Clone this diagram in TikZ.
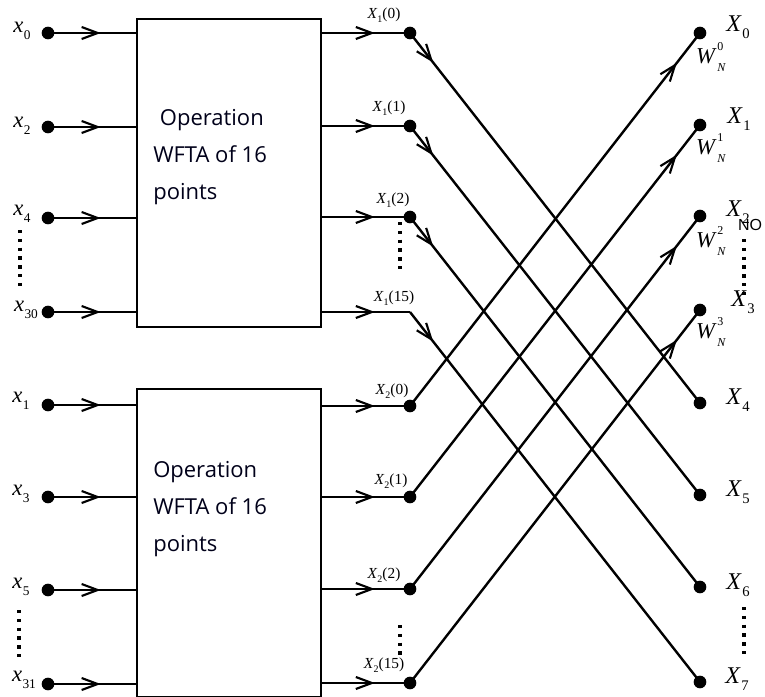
\documentclass[tikz,border=0pt]{standalone}
\usepackage{fontspec}
\setmainfont{Liberation Serif}
\newfontfamily\boxfont{Open Sans}
\newfontfamily\nofont{Liberation Sans}
\usetikzlibrary{arrows.meta,decorations.markings}
\newcommand{\xin}[1]{\fontsize{17}{17}\selectfont\textit{x}\kern0.3pt\raisebox{-0.3em}{\fontsize{10}{10}\selectfont #1}}
\newcommand{\xout}[1]{\fontsize{18}{18}\selectfont\textit{X}\kern0.5pt\raisebox{-0.3em}{\fontsize{11}{11}\selectfont #1}}
\newcommand{\xmid}[2]{\fontsize{11.5}{11.5}\selectfont\textit{X}\raisebox{-0.25em}{\fontsize{7.5}{7.5}\selectfont #1}(#2)}
\newcommand{\wlab}[1]{\fontsize{17}{17}\selectfont\textit{W}\kern0.5pt\rlap{\raisebox{0.55em}{\fontsize{9}{9}\selectfont #1}}\raisebox{-0.35em}{\fontsize{9}{9}\selectfont\textit{N}}}
\begin{document}
\begin{tikzpicture}[x=0.75pt,y=-0.75pt,
  wire/.style={line width=1.8pt},
  dot/.style={circle,fill=black,inner sep=0pt,minimum size=9.5pt},
  box/.style={draw,line width=1.8pt,inner sep=0pt},
  vdots/.style={line width=2.5pt,dash pattern=on 2.5pt off 4.1pt},
  arrowat/.style={postaction={decorate},decoration={markings,
     mark=at position #1 with {\arrow{Straight Barb[length=12pt,width=9pt,line width=1.6pt]}}}},
  txt/.style={inner sep=0pt}]
\useasboundingbox (0,0) rectangle (765,697);
\clip (0,0) rectangle (765,697);
% boxes
\node[box,minimum width=138pt,minimum height=231pt] (B1) at (229,173) {};
\node[box,minimum width=138pt,minimum height=231pt] (B2) at (229,543) {};
\node[txt,anchor=west,align=left,font=\boxfont\fontsize{16.5}{28}\selectfont,text=black!90!blue] (T1) at (153,157)
  {\hspace*{5pt}Operation\\WFTA of 16\\points};
\node[txt,anchor=west,align=left,font=\boxfont\fontsize{16.5}{28}\selectfont,text=black!90!blue] (T2) at (153,509)
  {Operation\\WFTA of 16\\points};
% left inputs
\foreach \n/\y/\l/\lx/\ly in {i0/33/0/22/31, i2/127/2/22/126, i4/218/4/22/214, i30/312/30/26/310,
                          i1/405/1/21/401, i3/497/3/21/494, i5/590/5/21/587, i31/684/31/24/680}{
  \node[dot] (\n) at (48,\y) {};
  \node[txt] (l\n) at (\lx,\ly) {\xin{\l}};
}
\foreach \n/\b in {i0/B1,i2/B1,i4/B1,i30/B1,i1/B2,i3/B2,i5/B2,i31/B2}
  \draw[wire,arrowat=0.6] (\n.center) -- (\n.center -| \b.west);
\draw[vdots] (20,230) -- (20,290);
\draw[vdots] (19,610) -- (19,660);
% middle outputs
\foreach \n/\y in {m0/33, m1/126, m2/217, n0/406, n1/497, n2/589, n15/683}
  \node[dot] (\n) at (410,\y) {};
\coordinate (m15) at (410,312);
\foreach \n/\b in {m0/B1,m1/B1,m2/B1,m15/B1,n0/B2,n1/B2,n2/B2,n15/B2}
  \draw[wire,arrowat=0.6] (\n.center -| \b.east) -- (\n.center);
\node[txt] (lm0) at (384,15) {\xmid{1}{0}};
\node[txt] (lm1) at (389,108) {\xmid{1}{1}};
\node[txt] (lm2) at (393,200) {\xmid{1}{2}};
\node[txt] (lm15) at (394,298) {\xmid{1}{15}};
\node[txt] (ln0) at (392,391) {\xmid{2}{0}};
\node[txt] (ln1) at (391,481) {\xmid{2}{1}};
\node[txt] (ln2) at (384,575) {\xmid{2}{2}};
\node[txt] (ln15) at (384,665) {\xmid{2}{15}};
\draw[vdots] (400,222) -- (400,272);
\draw[vdots] (400,625) -- (400,656);
% right outputs
\foreach \n/\y in {o0/33, o1/125, o2/216, o3/310, o4/403, o5/495, o6/587, o7/682}
  \node[dot] (\n) at (700,\y) {};
\node[txt] (lo0) at (738,27) {\xout{0}};
\node[txt] (lo1) at (739,119) {\xout{1}};
\node[txt] (lo2) at (738,212) {\xout{2}};
\node[txt] (lo3) at (743,302) {\xout{3}};
\node[txt] (lo4) at (738,400) {\xout{4}};
\node[txt] (lo5) at (738,492) {\xout{5}};
\node[txt] (lo6) at (738,585) {\xout{6}};
\node[txt] (lo7) at (737,679) {\xout{7}};
\node[txt,font=\nofont\fontsize{12}{12}\selectfont] (no) at (750,225) {NO};
\draw[vdots] (744,239) -- (744,295);
\draw[vdots] (744,607) -- (744,658);
\node[txt] (w0) at (711,57) {\wlab{0}};
\node[txt] (w1) at (711,148) {\wlab{1}};
\node[txt] (w2) at (711,241) {\wlab{2}};
\node[txt] (w3) at (711,332) {\wlab{3}};
% butterfly lines
\draw[wire,arrowat=0.08] (m0.center) -- (o4.center);
\draw[wire,arrowat=0.08] (m1.center) -- (o5.center);
\draw[wire,arrowat=0.08] (m2.center) -- (o6.center);
\draw[wire,arrowat=0.08] (m15) -- (o7.center);
\draw[wire,arrowat=0.92] (n0.center) -- (o0.center);
\draw[wire,arrowat=0.92] (n1.center) -- (o1.center);
\draw[wire,arrowat=0.92] (n2.center) -- (o2.center);
\draw[wire,arrowat=0.92] (n15.center) -- (o3.center);
\end{tikzpicture}
\end{document}
